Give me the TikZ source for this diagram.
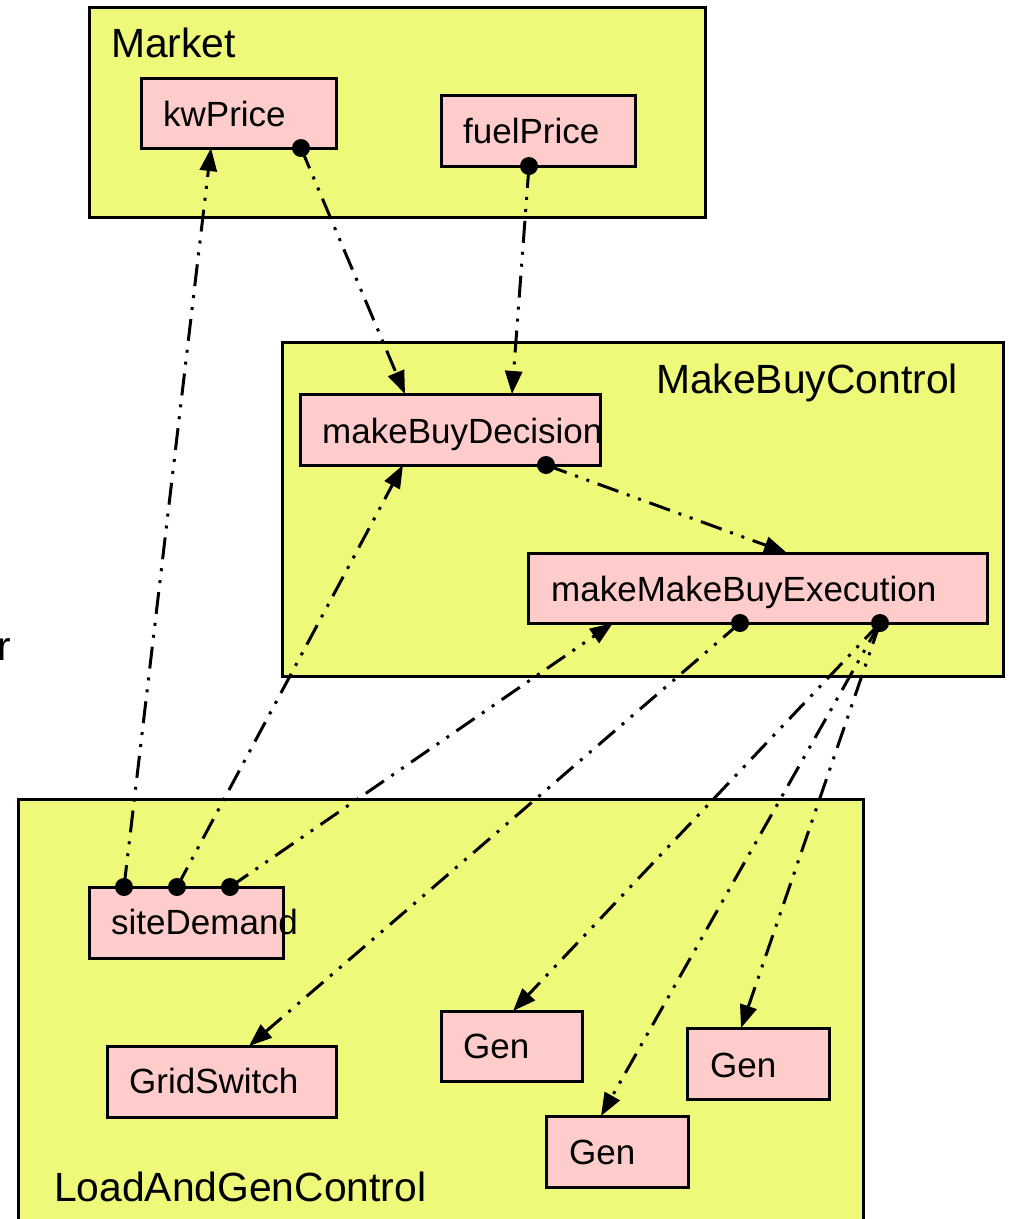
\documentclass[tikz,border=0pt]{standalone}
\usepackage{fontspec}
\setmainfont{Liberation Sans}
\usetikzlibrary{arrows.meta}
\definecolor{actorfill}{RGB}{255,204,204}
\definecolor{compfill}{RGB}{238,249,122}
\begin{document}
\begin{tikzpicture}[x=1pt,y=-1pt,
  container/.style={draw=black, fill=compfill, line width=3pt, rectangle,
    inner sep=0pt, outer sep=0pt, anchor=north west},
  actor/.style={draw=black, fill=actorfill, line width=3pt, rectangle,
    inner sep=0pt, outer sep=0pt, anchor=north west},
  bigtext/.style={anchor=base west, inner sep=0pt, font=\fontsize{40.8}{48}\selectfont},
  smalltext/.style={anchor=base west, inner sep=0pt, font=\fontsize{35}{42}\selectfont},
  link/.style={line width=3pt,
    dash pattern=on 22pt off 9pt on 3pt off 9pt on 3pt off 9pt,
    -{Triangle[length=23pt,width=17pt]}},
  port/.style={fill=black, circle, inner sep=0pt, minimum size=18pt}
]
\useasboundingbox (0,0) rectangle (1009,1219);
\clip (0,0) rectangle (1009,1219);

% composite actors
\node[container, minimum width=616pt, minimum height=210pt] (market) at (89,7) {};
\node[container, minimum width=721pt, minimum height=334pt] (mbc) at (282,342) {};
\node[container, minimum width=845pt, minimum height=450pt] (lag) at (18,799) {};

% atomic actors
\node[actor, minimum width=195pt, minimum height=70pt] (kw) at (141,78) {};
\node[actor, minimum width=194pt, minimum height=71pt] (fuel) at (441,95) {};
\node[actor, minimum width=300pt, minimum height=71pt] (dec) at (300,394) {};
\node[actor, minimum width=459pt, minimum height=70pt] (exe) at (528,553) {};
\node[actor, minimum width=194pt, minimum height=71pt] (site) at (89,887) {};
\node[actor, minimum width=229pt, minimum height=71pt] (grid) at (107,1046) {};
\node[actor, minimum width=141pt, minimum height=70pt] (gen1) at (441,1011) {};
\node[actor, minimum width=142pt, minimum height=71pt] (gen2) at (687,1028) {};
\node[actor, minimum width=142pt, minimum height=71pt] (gen3) at (546,1116) {};

% names
\node[bigtext] (tmarket) at (111,57) {Market};
\node[bigtext] (tmbc) at (656,393) {MakeBuyControl};
\node[bigtext] (tlag) at (54,1201) {LoadAndGenControl};
\node[bigtext] (tr) at (-3,660) {r};
\node[smalltext] (tkw) at (163,126) {kwPrice};
\node[smalltext] (tfuel) at (463,143) {fuelPrice};
\node[smalltext] (tdec) at (322,443) {makeBuyDecision};
\node[smalltext] (texe) at (551,601) {makeMakeBuyExecution};
\node[smalltext] (tsite) at (111,934) {siteDemand};
\node[smalltext] (tgrid) at (129,1093) {GridSwitch};
\node[smalltext] (tgen1) at (463,1058) {Gen};
\node[smalltext] (tgen2) at (710,1077) {Gen};
\node[smalltext] (tgen3) at (569,1164) {Gen};

% output ports
\coordinate (kwout) at ([xshift=160pt]kw.south west);
\coordinate (fuelout) at ([xshift=88pt]fuel.south west);
\coordinate (decout) at ([xshift=246pt]dec.south west);
\coordinate (exeoutA) at ([xshift=212pt]exe.south west);
\coordinate (exeoutB) at ([xshift=352pt]exe.south west);
\coordinate (siteoutA) at ([xshift=35pt]site.north west);
\coordinate (siteoutB) at ([xshift=88pt]site.north west);
\coordinate (siteoutC) at ([xshift=141pt]site.north west);

% input ports
\coordinate (kwin) at ([xshift=70pt]kw.south west);
\coordinate (decinA) at ([xshift=105pt]dec.north west);
\coordinate (decinB) at ([xshift=212pt]dec.north west);
\coordinate (decinC) at ([xshift=103pt]dec.south west);
\coordinate (exeinA) at ([xshift=259pt]exe.north west);
\coordinate (exeinB) at ([xshift=85pt]exe.south west);
\coordinate (gridin) at ([xshift=142pt]grid.north west);
\coordinate (gen1in) at ([xshift=72pt]gen1.north west);
\coordinate (gen2in) at ([xshift=54pt]gen2.north west);
\coordinate (gen3in) at ([xshift=55pt]gen3.north west);

% relations
\draw[link] (kwout) -- (decinA);
\draw[link] (fuelout) -- (decinB);
\draw[link] (siteoutA) -- (kwin);
\draw[link] (siteoutB) -- (decinC);
\draw[link] (siteoutC) -- (exeinB);
\draw[link] (decout) -- (exeinA);
\draw[link] (exeoutA) -- (gridin);
\draw[link] (exeoutB) -- (gen1in);
\draw[link] (exeoutB) -- (gen3in);
\draw[link] (exeoutB) -- (gen2in);

% port dots
\foreach \p in {kwout,fuelout,decout,exeoutA,exeoutB,siteoutA,siteoutB,siteoutC}
  \node[port] at (\p) {};
\end{tikzpicture}
\end{document}
